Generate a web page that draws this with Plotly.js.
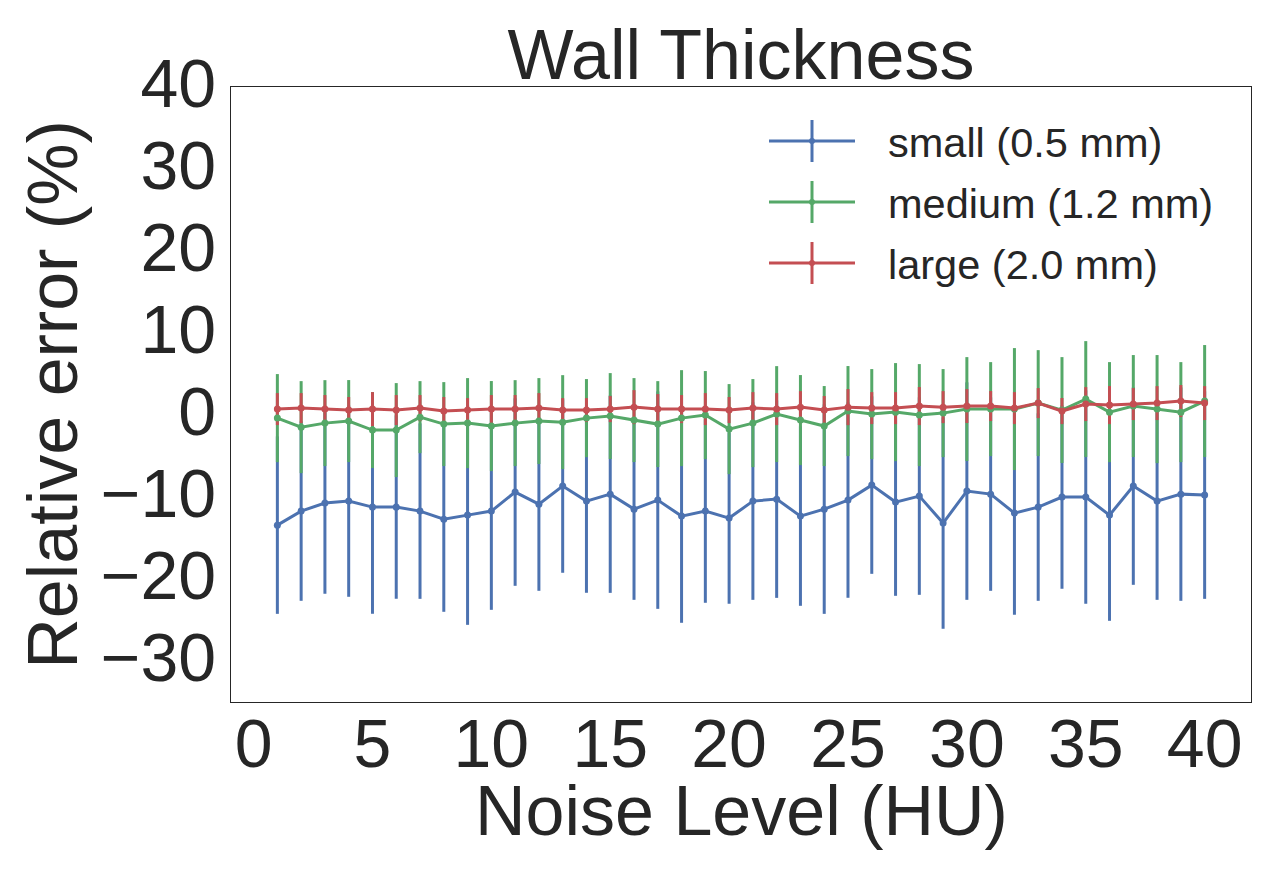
<!DOCTYPE html>
<html>
<head>
<meta charset="utf-8">
<script src="https://cdn.plot.ly/plotly-3.0.1.min.js"></script>
<style>
  html, body { margin: 0; padding: 0; background: #fff; }
  #chart { width: 1280px; height: 880px; }
</style>
</head>
<body>
<div id="chart"></div>
<script>
// Noise level (HU) on the x axis
const noiseLevels = [1, 2, 3, 4, 5, 6, 7, 8, 9, 10, 11, 12, 13, 14, 15, 16, 17, 18, 19, 20,
  21, 22, 23, 24, 25, 26, 27, 28, 29, 30, 31, 32, 33, 34, 35, 36, 37, 38, 39, 40];

// small (0.5 mm)
const smallMean = [-13.43, -11.72, -10.74, -10.50, -11.23, -11.23, -11.72, -12.70, -12.21, -11.72,
  -9.40, -10.87, -8.67, -10.50, -9.65, -11.48, -10.38, -12.33, -11.72, -12.57,
  -10.50, -10.26, -12.33, -11.48, -10.38, -8.55, -10.62, -9.89, -13.18, -9.28,
  -9.65, -11.96, -11.23, -10.01, -10.01, -12.21, -8.67, -10.50, -9.65, -9.77];
const smallErr = [10.82, 10.94, 11.06, 11.67, 13.01, 11.18, 10.70, 11.30, 13.38, 12.04,
  11.43, 10.57, 10.57, 11.18, 12.04, 11.06, 13.26, 13.01, 11.18, 10.45,
  12.04, 12.04, 10.94, 12.77, 11.91, 10.82, 11.43, 12.04, 12.89, 13.26,
  11.79, 12.40, 11.43, 11.18, 13.01, 12.89, 12.04, 12.04, 13.01, 12.65];

// medium (1.2 mm)
const mediumMean = [-0.38, -1.48, -0.99, -0.74, -1.84, -1.84, -0.26, -1.11, -0.99, -1.35,
  -0.99, -0.74, -0.87, -0.38, -0.13, -0.62, -1.11, -0.38, -0.01, -1.72,
  -0.99, 0.11, -0.62, -1.35, 0.48, 0.11, 0.35, -0.01, 0.23, 0.72,
  0.72, 0.72, 1.45, 0.60, 1.94, 0.35, 1.09, 0.72, 0.35, 1.70];
const mediumErr = [5.37, 5.61, 5.24, 5.00, 4.63, 5.73, 4.39, 5.12, 5.49, 5.49,
  5.24, 5.24, 5.73, 4.76, 5.24, 5.12, 5.24, 5.85, 5.37, 5.49,
  5.37, 5.85, 5.49, 4.88, 5.49, 5.49, 5.98, 6.22, 5.37, 6.34,
  5.73, 7.44, 6.46, 6.46, 7.07, 6.10, 6.22, 6.59, 6.10, 6.83];

// large (2.0 mm)
const largeMean = [0.72, 0.84, 0.72, 0.60, 0.72, 0.60, 0.84, 0.48, 0.60, 0.72,
  0.72, 0.84, 0.60, 0.60, 0.72, 0.96, 0.72, 0.72, 0.72, 0.60,
  0.84, 0.72, 0.96, 0.60, 0.96, 0.84, 0.84, 1.09, 0.96, 1.09,
  1.09, 0.84, 1.45, 0.48, 1.33, 1.21, 1.33, 1.45, 1.70, 1.45];
const largeErr = [1.95, 1.83, 1.71, 1.59, 2.07, 1.83, 1.59, 1.71, 1.46, 1.71,
  1.71, 1.83, 1.46, 1.46, 1.59, 2.07, 1.83, 1.71, 1.95, 1.59,
  1.95, 1.95, 1.95, 1.71, 2.20, 1.95, 1.95, 2.32, 1.95, 2.07,
  1.83, 1.95, 1.83, 1.59, 2.07, 2.32, 1.95, 2.07, 1.95, 2.07];

const seriesNames = ['small (0.5 mm)', 'medium (1.2 mm)', 'large (2.0 mm)'];
const seriesColors = ['#4C72B0', '#55A868', '#C44E52'];
const xTicks = [0, 5, 10, 15, 20, 25, 30, 35, 40];
const yTicks = [-30, -20, -10, 0, 10, 20, 30, 40];

const FONT = 'Liberation Sans, Arial, sans-serif';
const TEXT = '#262626';

const series = [
  { mean: smallMean, err: smallErr },
  { mean: mediumMean, err: mediumErr },
  { mean: largeMean, err: largeErr }
];

// Error bars go first so that every line sits on top of all the bars (matplotlib order)
const barTraces = series.map((s, i) => ({
  type: 'scatter',
  mode: 'markers',
  x: noiseLevels,
  y: s.mean,
  marker: { size: 1, opacity: 0, color: seriesColors[i] },
  error_y: { type: 'data', array: s.err, visible: true, color: seriesColors[i], thickness: 3, width: 0 },
  showlegend: false,
  hoverinfo: 'skip'
}));

const lineTraces = series.map((s, i) => ({
  type: 'scatter',
  mode: 'lines+markers',
  name: seriesNames[i],
  x: noiseLevels,
  y: s.mean,
  line: { color: seriesColors[i], width: 3 },
  marker: { color: seriesColors[i], size: 7 },
  showlegend: false
}));

// Plot area in pixels, used to place the hand-drawn legend
const plotLeft = 231, plotRight = 1251, plotTop = 87, plotBottom = 702;
const px = (x) => (x - plotLeft) / (plotRight - plotLeft);
const py = (y) => (plotBottom - y) / (plotBottom - plotTop);

// Legend: errorbar-style cross + label, like matplotlib's
const legendShapes = [];
const notes = [];
seriesNames.forEach((name, i) => {
  const rowY = 141 + i * 61;
  const c = seriesColors[i];
  legendShapes.push({
    type: 'line', xref: 'paper', yref: 'paper',
    x0: px(769), x1: px(855), y0: py(rowY), y1: py(rowY),
    line: { color: c, width: 3 }
  });
  legendShapes.push({
    type: 'line', xref: 'paper', yref: 'paper',
    x0: px(812), x1: px(812), y0: py(rowY - 21), y1: py(rowY + 21),
    line: { color: c, width: 3 }
  });
  legendShapes.push({
    type: 'circle', xref: 'paper', yref: 'paper',
    x0: px(809), x1: px(815), y0: py(rowY - 3), y1: py(rowY + 3),
    fillcolor: c, line: { color: c, width: 0 }
  });
  notes.push({
    xref: 'paper', yref: 'paper', x: px(886), y: py(rowY + 1),
    xanchor: 'left', yanchor: 'middle', showarrow: false,
    text: name, font: { family: FONT, size: 41.5, color: TEXT }
  });
});

// x axis title as a note: plotly keeps the axis title too far below the lifted tick labels
notes.push({
  xref: 'paper', yref: 'paper', x: 0.5, y: py(811),
  xanchor: 'center', yanchor: 'middle', showarrow: false,
  text: 'Noise Level (HU)', font: { family: FONT, size: 70, color: TEXT }
});

const axisCommon = {
  showgrid: false,
  zeroline: false,
  showline: true,
  mirror: true,
  linecolor: TEXT,
  linewidth: 1.25,
  ticks: '',
  tickfont: { family: FONT, size: 68, color: TEXT }
};

const layout = {
  width: 1280,
  height: 880,
  autosize: false,
  paper_bgcolor: '#ffffff',
  plot_bgcolor: '#ffffff',
  margin: { l: plotLeft, r: 1280 - plotRight, t: plotTop, b: 880 - plotBottom, pad: 0 },
  font: { family: FONT, color: TEXT },
  title: {
    text: 'Wall Thickness',
    font: { family: FONT, size: 70, color: TEXT },
    xref: 'paper', x: 0.5, xanchor: 'center',
    yref: 'container', y: 1 - 54 / 880, yanchor: 'middle'
  },
  xaxis: Object.assign({}, axisCommon, {
    range: [-0.95, 41.95],
    tickvals: xTicks,
    ticklabelstandoff: -18
  }),
  yaxis: Object.assign({}, axisCommon, {
    range: [-35, 40],
    tickvals: yTicks,
    ticklabelshift: -4,
    title: { text: 'Relative error (%)', font: { family: FONT, size: 70, color: TEXT }, standoff: 0 }
  }),
  shapes: legendShapes,
  annotations: notes
};

Plotly.newPlot('chart', barTraces.concat(lineTraces), layout, { staticPlot: true });
</script>
</body>
</html>
